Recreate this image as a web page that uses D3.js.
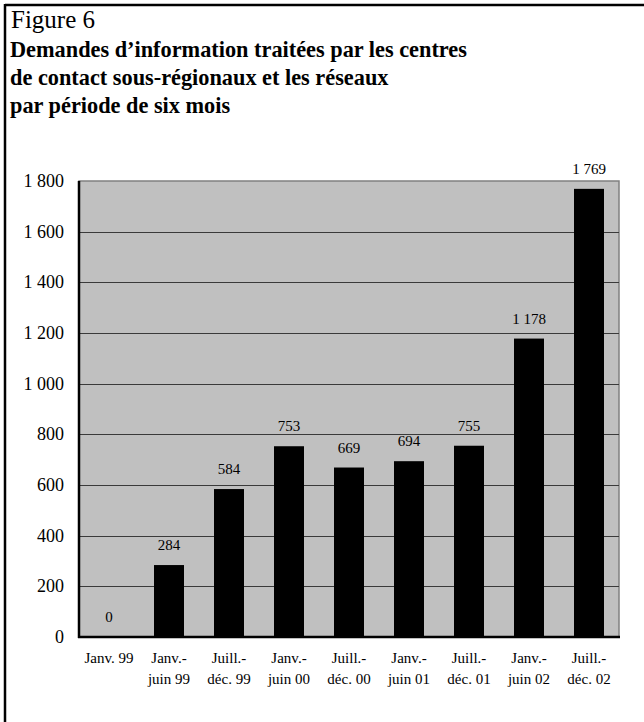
<!DOCTYPE html>
<html>
<head>
<meta charset="utf-8">
<script src="https://cdn.jsdelivr.net/npm/d3@7"></script>
<style>
  body { margin: 0; background: #fff; }
  svg { display: block; font-family: "Liberation Serif", "Times New Roman", serif; }
</style>
</head>
<body>
<svg></svg>
<script>
const width = 644;
const height = 722;

// data
const periods = [
  ["Janv. 99"],
  ["Janv.-", "juin 99"],
  ["Juill.-", "déc. 99"],
  ["Janv.-", "juin 00"],
  ["Juill.-", "déc. 00"],
  ["Janv.-", "juin 01"],
  ["Juill.-", "déc. 01"],
  ["Janv.-", "juin 02"],
  ["Juill.-", "déc. 02"]
];
const requests = [0, 284, 584, 753, 669, 694, 755, 1178, 1769];
const yTicks = [0, 200, 400, 600, 800, 1000, 1200, 1400, 1600, 1800];
const titleLines = [
  "Demandes d\u2019information traitées par les centres",
  "de contact sous-régionaux et les réseaux",
  "par période de six mois"
];

// thousands separated by a space, as in the original
const fmt = v => v >= 1000 ? Math.floor(v / 1000) + "\u00a0" + String(v % 1000).padStart(3, "0") : String(v);

const svg = d3.select('svg')
  .attr('width', width)
  .attr('height', height);

// frame (top and left rules)
svg.append("line").attr("x1", 5).attr("x2", width).attr("y1", 5).attr("y2", 5)
  .attr("stroke", "#000").attr("stroke-width", 2.5);
svg.append("line").attr("x1", 5).attr("x2", 5).attr("y1", 4).attr("y2", height)
  .attr("stroke", "#000").attr("stroke-width", 2.5);

svg.append("text")
  .attr("x", 11).attr("y", 28)
  .attr("font-size", 25)
  .text("Figure 6");

// title is a bit condensed in the original
svg.append("g")
  .attr("transform", "translate(10,0) scale(0.93,1)")
  .selectAll("text")
  .data(titleLines)
  .enter()
  .append("text")
  .attr("x", 0)
  .attr("y", (d, i) => 57 + i * 28)
  .attr("font-size", 24)
  .attr("font-weight", "bold")
  .text(d => d);

const plot = { left: 79, right: 619, top: 181, bottom: 637 };

const x = d3.scaleBand()
  .domain(d3.range(periods.length))
  .range([plot.left, plot.right])
  .paddingInner(0.5)
  .paddingOuter(0.25);

const y = d3.scaleLinear()
  .domain([0, 1800])
  .range([plot.bottom, plot.top]);

// plot background
svg.append("rect")
  .attr("x", plot.left).attr("y", plot.top)
  .attr("width", plot.right - plot.left).attr("height", plot.bottom - plot.top)
  .attr("fill", "#c0c0c0")
  .attr("stroke", "#808080")
  .attr("stroke-width", 1.5);

// gridlines
svg.append("g").selectAll("line")
  .data(yTicks.filter(d => d > 0 && d < 1800))
  .enter()
  .append("line")
  .attr("x1", plot.left).attr("x2", plot.right)
  .attr("y1", d => Math.round(y(d)) + 0.5)
  .attr("y2", d => Math.round(y(d)) + 0.5)
  .attr("stroke", "#3a3a3a")
  .attr("stroke-width", 1);

// bars
svg.append("g").selectAll("rect")
  .data(requests)
  .enter()
  .append("rect")
  .attr("x", (d, i) => x(i))
  .attr("y", d => y(d))
  .attr("width", x.bandwidth())
  .attr("height", d => y(0) - y(d))
  .attr("fill", "#000");

// value labels
svg.append("g").selectAll("text")
  .data(requests)
  .enter()
  .append("text")
  .attr("x", (d, i) => x(i) + x.bandwidth() / 2)
  .attr("y", d => y(d) - 15)
  .attr("text-anchor", "middle")
  .attr("font-size", 15)
  .text(d => fmt(d));

// axes lines
svg.append("line")
  .attr("x1", plot.left).attr("x2", plot.left)
  .attr("y1", plot.top).attr("y2", plot.bottom + 1)
  .attr("stroke", "#000").attr("stroke-width", 2.5);
svg.append("line")
  .attr("x1", plot.left - 1).attr("x2", plot.right + 1)
  .attr("y1", plot.bottom).attr("y2", plot.bottom)
  .attr("stroke", "#000").attr("stroke-width", 2.5);

// y tick labels
svg.append("g").selectAll("text")
  .data(yTicks)
  .enter()
  .append("text")
  .attr("x", 64)
  .attr("y", d => y(d) + 6)
  .attr("text-anchor", "end")
  .attr("font-size", 18)
  .text(d => fmt(d));

// x tick labels
const xl = svg.append("g").selectAll("text")
  .data(periods)
  .enter()
  .append("text")
  .attr("x", (d, i) => x(i) + x.bandwidth() / 2)
  .attr("y", 663)
  .attr("text-anchor", "middle")
  .attr("font-size", 15);

xl.selectAll("tspan")
  .data(d => d)
  .enter()
  .append("tspan")
  .attr("x", function() { return d3.select(this.parentNode).attr("x"); })
  .attr("dy", (d, i) => i === 0 ? 0 : 21)
  .text(d => d);
</script>
</body>
</html>
